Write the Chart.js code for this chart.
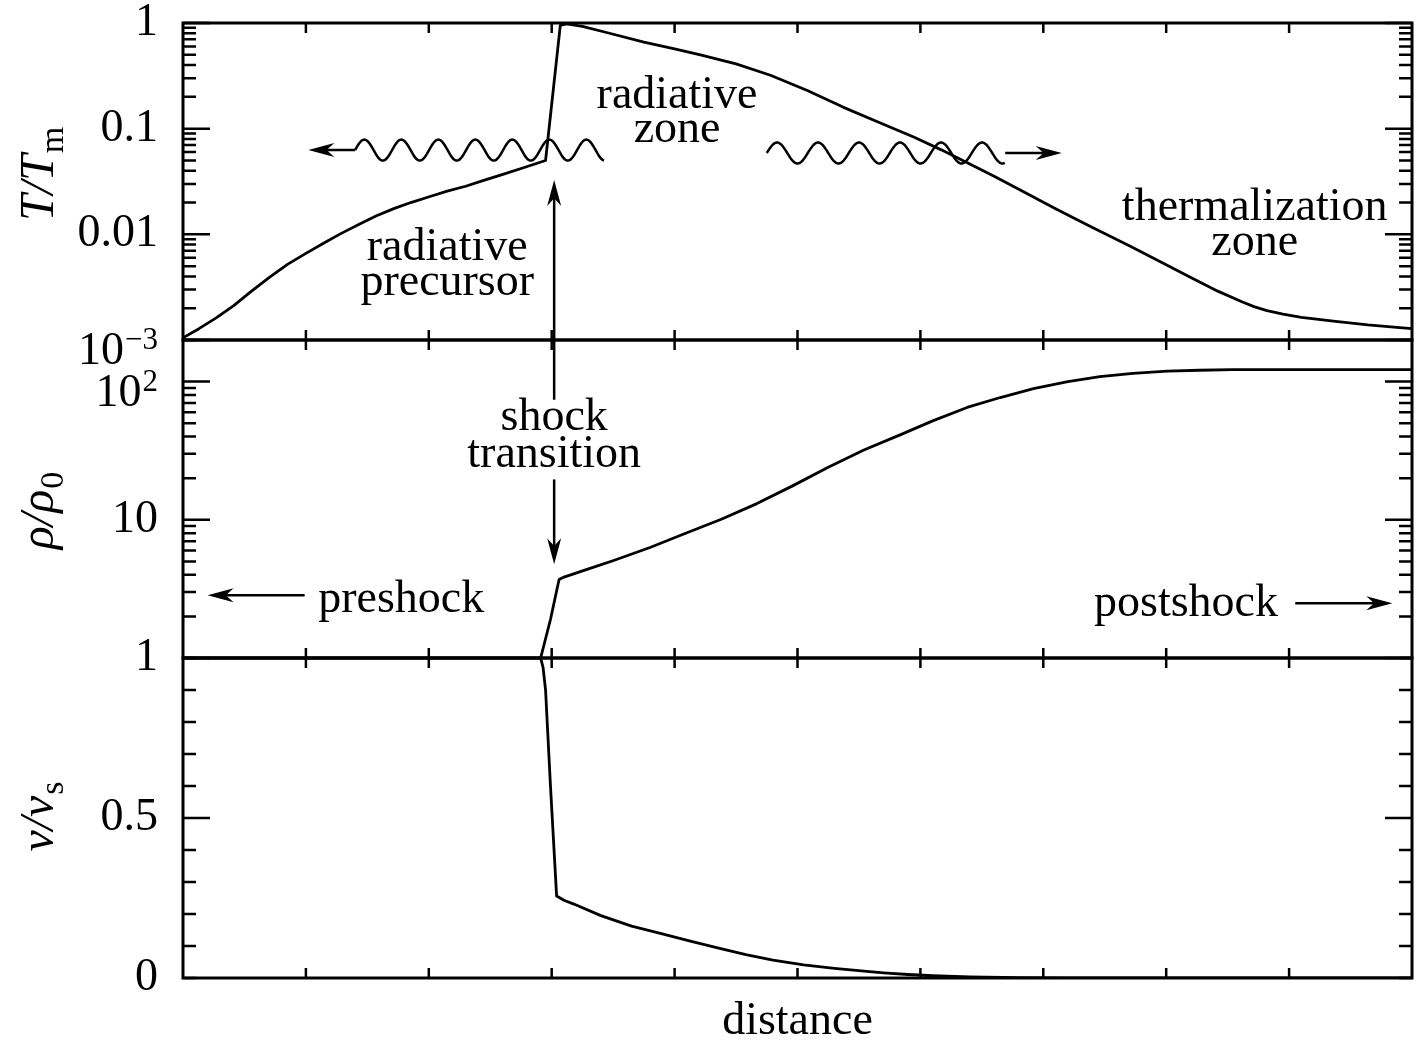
<!DOCTYPE html>
<html>
<head>
<meta charset="utf-8">
<title>Radiative shock structure</title>
<script src="https://cdn.jsdelivr.net/npm/chart.js@4/dist/chart.umd.min.js"></script>
<style>
  html, body { margin: 0; padding: 0; background: #fff; }
  #wrap { position: relative; width: 1424px; height: 1042px; }
</style>
</head>
<body>
<div id="wrap"><canvas id="shock" width="1424" height="1042"></canvas></div>
<script>
// ---- data (distance in tick units) ----
var tempX = [0, 0.13, 0.27, 0.41, 0.55, 0.70, 0.85, 1.00, 1.14, 1.28, 1.43, 1.57, 1.72, 1.86, 2.01, 2.15, 2.30, 2.44, 2.59, 2.77, 2.95,
  3.07, 3.12, 3.25, 3.47, 3.75, 4.00, 4.21, 4.50, 4.78, 5.08, 5.37, 5.66, 5.95, 6.17, 6.39, 6.60, 6.82, 7.10, 7.40, 7.70, 7.98,
  8.20, 8.42, 8.62, 8.72, 8.82, 8.95, 9.10, 9.36, 9.64, 9.90, 10];
var tempY = [0.00105, 0.00128, 0.00162, 0.0021, 0.00285, 0.0039, 0.0052, 0.0066, 0.0082, 0.0101, 0.0124, 0.0149, 0.0176, 0.0201, 0.0228, 0.0256, 0.0285, 0.0322, 0.0365, 0.0427, 0.050,
  0.95, 0.98, 0.93, 0.80, 0.66, 0.57, 0.50, 0.41, 0.32, 0.23, 0.16, 0.115, 0.083, 0.063, 0.047, 0.0355, 0.026, 0.0175, 0.0116, 0.0078, 0.0053,
  0.0039, 0.0029, 0.00229, 0.00206, 0.0019, 0.00176, 0.00164, 0.00151, 0.00139, 0.00131, 0.00128];

var densX = [0, 2.91, 2.99, 3.06, 3.10, 3.30, 3.51, 3.80, 4.09, 4.38, 4.67, 4.96, 5.25, 5.54, 5.83, 6.10, 6.38, 6.65, 6.92, 7.20, 7.46, 7.73, 8.01, 8.27, 8.54, 9.00, 10];
var densY = [1, 1, 1.9, 3.7, 3.85, 4.42, 5.1, 6.3, 8.0, 10.1, 13.1, 17.6, 24, 32, 41, 52, 65, 76.7, 89, 100, 108.6, 114.8, 118.9, 120.8, 121.9, 122, 122];

var velX = [0, 2.91, 2.93, 2.95, 2.99, 3.04, 3.10, 3.18, 3.40, 3.65, 3.90, 4.12, 4.35, 4.58, 4.80, 5.05, 5.30, 5.52, 5.70, 5.90, 6.10, 6.40, 6.80, 7.20, 10];
var velY = [1, 1, 0.97, 0.9, 0.6, 0.256, 0.243, 0.231, 0.195, 0.162, 0.138, 0.116, 0.094, 0.073, 0.056, 0.041, 0.030, 0.022, 0.016, 0.011, 0.007, 0.0035, 0.001, 0, 0];

// ---- axes / ticks ----
var xTicks = [1, 2, 3, 4, 5, 6, 7, 8, 9];
var tTickValues = [0.001, 0.01, 0.1, 1];
var tTickLabels = [['10', '\u22123'], '0.01', '0.1', '1'];
var rhoTickValues = [1, 10, 100];
var rhoTickLabels = ['1', '10', ['10', '2']];
var velTickValues = [0, 0.5];
var velTickLabels = ['0', '0.5'];

// ---- annotations ----
var notes = [
  { text: 'radiative', x: 4.02, y: 0.157, axis: 'yT', align: 'center' },
  { text: 'zone', x: 4.02, y: 0.075, axis: 'yT', align: 'center' },
  { text: 'radiative', x: 2.15, y: 0.0057, axis: 'yT', align: 'center' },
  { text: 'precursor', x: 2.15, y: 0.00267, axis: 'yT', align: 'center' },
  { text: 'thermalization', x: 8.72, y: 0.0137, axis: 'yT', align: 'center' },
  { text: 'zone', x: 8.72, y: 0.0064, axis: 'yT', align: 'center' },
  { text: 'shock', x: 3.02, y: 44.9, axis: 'yr', align: 'center' },
  { text: 'transition', x: 3.02, y: 24.3, axis: 'yr', align: 'center' },
  { text: 'preshock', x: 1.10, y: 2.15, axis: 'yr', align: 'left' },
  { text: 'postshock', x: 8.91, y: 2.01, axis: 'yr', align: 'right' }
];
var arrows = [
  { from: [0.99, 2.85, 'yr'], to: [0.20, 2.85, 'yr'] },
  { from: [9.05, 2.49, 'yr'], to: [9.84, 2.49, 'yr'] },
  { from: [3.02, 73.9, 'yr'], to: [3.02, 0.0327, 'yT'] },
  { from: [3.02, 19.6, 'yr'], to: [3.02, 4.77, 'yr'] }
];
var waves = [
  { start: 1.40, end: 3.43, tip: 1.02, y: 0.0627, period: 37 },
  { start: 4.75, end: 6.69, tip: 7.15, y: 0.0588, period: 41 }
];

var SERIF = '"Liberation Serif", "Times New Roman", serif';

function toPoints(xs, ys) {
  return xs.map(function (x, i) { return { x: x, y: ys[i] }; });
}

function logTicks(minExp, maxVal) {
  var out = [];
  for (var e = minExp; Math.pow(10, e) <= maxVal; e++) {
    for (var k = 1; k <= 9; k++) {
      var v = k * Math.pow(10, e);
      if (v <= maxVal * 1.0001) out.push({ value: v, major: k === 1 });
    }
  }
  return out;
}

function linTicks() {
  var out = [];
  for (var i = 0; i <= 10; i++) out.push({ value: i / 10, major: i === 5 });
  return out;
}

var panels = [
  { id: 'yT', ticks: logTicks(-3, 1), values: tTickValues, labels: tTickLabels, main: 'T/T', sub: 'm', shift: -7 },
  { id: 'yr', ticks: logTicks(0, 200), values: rhoTickValues, labels: rhoTickLabels, main: '\u03c1/\u03c1', sub: '0', shift: 12 },
  { id: 'yv', ticks: linTicks(), values: velTickValues, labels: velTickLabels, main: 'v/v', sub: 's', shift: -1 }
];

function drawTickLabel(ctx, label, xRight, py) {
  ctx.textAlign = 'right';
  ctx.textBaseline = 'middle';
  if (Array.isArray(label)) {
    ctx.font = '31px ' + SERIF;
    var supW = ctx.measureText(label[1]).width;
    ctx.fillText(label[1], xRight, py + 1);
    ctx.font = '46px ' + SERIF;
    ctx.fillText(label[0], xRight - supW - 1, py + 12);
  } else {
    ctx.font = '46px ' + SERIF;
    ctx.fillText(label, xRight, py);
  }
}

function drawAxisLabel(ctx, main, sub, cx, cy) {
  ctx.save();
  ctx.translate(cx, cy);
  ctx.rotate(-Math.PI / 2);
  ctx.textAlign = 'left';
  ctx.textBaseline = 'alphabetic';
  ctx.font = 'italic 48px ' + SERIF;
  var wMain = ctx.measureText(main).width;
  ctx.font = '34px ' + SERIF;
  var wSub = ctx.measureText(sub).width;
  var x0 = -(wMain + wSub) / 2;
  ctx.font = 'italic 48px ' + SERIF;
  ctx.fillText(main, x0, 0);
  ctx.font = '34px ' + SERIF;
  ctx.fillText(sub, x0 + wMain + 1, 10);
  ctx.restore();
}

function drawArrow(ctx, x1, y1, x2, y2) {
  var a = Math.atan2(y2 - y1, x2 - x1), c = Math.cos(a), s = Math.sin(a);
  var L = 26, W = 7;
  ctx.beginPath();
  ctx.moveTo(x1, y1);
  ctx.lineTo(x2 - 0.6 * L * c, y2 - 0.6 * L * s);
  ctx.stroke();
  ctx.beginPath();
  ctx.moveTo(x2, y2);
  ctx.lineTo(x2 - L * c - W * s, y2 - L * s + W * c);
  ctx.lineTo(x2 - 0.7 * L * c, y2 - 0.7 * L * s);
  ctx.lineTo(x2 - L * c + W * s, y2 - L * s - W * c);
  ctx.closePath();
  ctx.fill();
}

function drawWave(ctx, xa, xb, yc, amp, period) {
  ctx.beginPath();
  for (var px = xa; px <= xb; px += 1) {
    var yy = yc - amp * Math.sin(2 * Math.PI * (px - xa) / period);
    if (px === xa) ctx.moveTo(px, yy); else ctx.lineTo(px, yy);
  }
  ctx.stroke();
}

var framePlugin = {
  id: 'frame',
  afterDatasetsDraw: function (chart) {
    var ctx = chart.ctx, area = chart.chartArea, xs = chart.scales.x;
    ctx.save();
    ctx.strokeStyle = '#000';
    ctx.fillStyle = '#000';

    // panel frames, inward ticks, tick labels, axis titles
    panels.forEach(function (p) {
      var s = chart.scales[p.id];
      ctx.lineWidth = 3;
      ctx.strokeRect(area.left, s.top, area.right - area.left, s.bottom - s.top);
      ctx.lineWidth = 2.5;
      ctx.beginPath();
      p.ticks.forEach(function (t) {
        var py = s.getPixelForValue(t.value);
        var len = t.major ? 27 : 13;
        ctx.moveTo(area.left, py); ctx.lineTo(area.left + len, py);
        ctx.moveTo(area.right, py); ctx.lineTo(area.right - len, py);
      });
      xTicks.forEach(function (v) {
        var px = xs.getPixelForValue(v);
        ctx.moveTo(px, s.top); ctx.lineTo(px, s.top + 10);
        ctx.moveTo(px, s.bottom); ctx.lineTo(px, s.bottom - 10);
      });
      ctx.stroke();

      p.values.forEach(function (v, i) {
        drawTickLabel(ctx, p.labels[i], area.left - 25, s.getPixelForValue(v));
      });
      drawAxisLabel(ctx, p.main, p.sub, 53, (s.top + s.bottom) / 2 + p.shift);
    });

    // x axis title
    ctx.textAlign = 'center';
    ctx.textBaseline = 'alphabetic';
    ctx.font = '46px ' + SERIF;
    ctx.fillText('distance', (area.left + area.right) / 2, area.bottom + 56);

    // annotation texts
    notes.forEach(function (n) {
      ctx.textAlign = n.align;
      ctx.fillText(n.text, xs.getPixelForValue(n.x), chart.scales[n.axis].getPixelForValue(n.y));
    });

    // straight arrows
    ctx.lineWidth = 2.5;
    arrows.forEach(function (a) {
      drawArrow(ctx,
        xs.getPixelForValue(a.from[0]), chart.scales[a.from[2]].getPixelForValue(a.from[1]),
        xs.getPixelForValue(a.to[0]), chart.scales[a.to[2]].getPixelForValue(a.to[1]));
    });

    // wavy radiation arrows
    waves.forEach(function (w) {
      var yc = chart.scales.yT.getPixelForValue(w.y);
      var xa = xs.getPixelForValue(w.start), xb = xs.getPixelForValue(w.end);
      drawWave(ctx, xa, xb, yc, 10.5, w.period);
      if (w.tip < w.start) drawArrow(ctx, xa, yc, xs.getPixelForValue(w.tip), yc);
      else drawArrow(ctx, xb, yc, xs.getPixelForValue(w.tip), yc);
    });
    ctx.restore();
  }
};

function hiddenAxis(extra) {
  var base = {
    grid: { display: false },
    border: { display: false },
    ticks: { display: false }
  };
  for (var k in extra) base[k] = extra[k];
  return base;
}

function lineSet(label, xs, ys, axis) {
  return {
    label: label,
    data: toPoints(xs, ys),
    yAxisID: axis,
    borderColor: '#000',
    borderWidth: 2.8,
    borderJoinStyle: 'round',
    pointRadius: 0,
    fill: false,
    tension: 0
  };
}

new Chart(document.getElementById('shock').getContext('2d'), {
  type: 'line',
  data: {
    datasets: [
      lineSet('T/Tm', tempX, tempY, 'yT'),
      lineSet('rho/rho0', densX, densY, 'yr'),
      lineSet('v/vs', velX, velY, 'yv')
    ]
  },
  options: {
    responsive: false,
    animation: false,
    events: [],
    layout: { padding: { left: 0, top: 23, right: 12, bottom: 0 } },
    plugins: { legend: { display: false }, tooltip: { enabled: false } },
    scales: {
      x: hiddenAxis({ type: 'linear', min: 0, max: 10, afterFit: function (s) { s.height = 64; } }),
      yv: hiddenAxis({ type: 'linear', position: 'left', stack: 'panels', stackWeight: 320, weight: 1, min: 0, max: 1,
        afterFit: function (s) { s.width = 183; } }),
      yr: hiddenAxis({ type: 'logarithmic', position: 'left', stack: 'panels', stackWeight: 318, weight: 2, min: 1, max: 200,
        afterFit: function (s) { s.width = 183; } }),
      yT: hiddenAxis({ type: 'logarithmic', position: 'left', stack: 'panels', stackWeight: 317, weight: 3, min: 0.001, max: 1,
        afterFit: function (s) { s.width = 183; } })
    }
  },
  plugins: [framePlugin]
});
</script>
</body>
</html>
